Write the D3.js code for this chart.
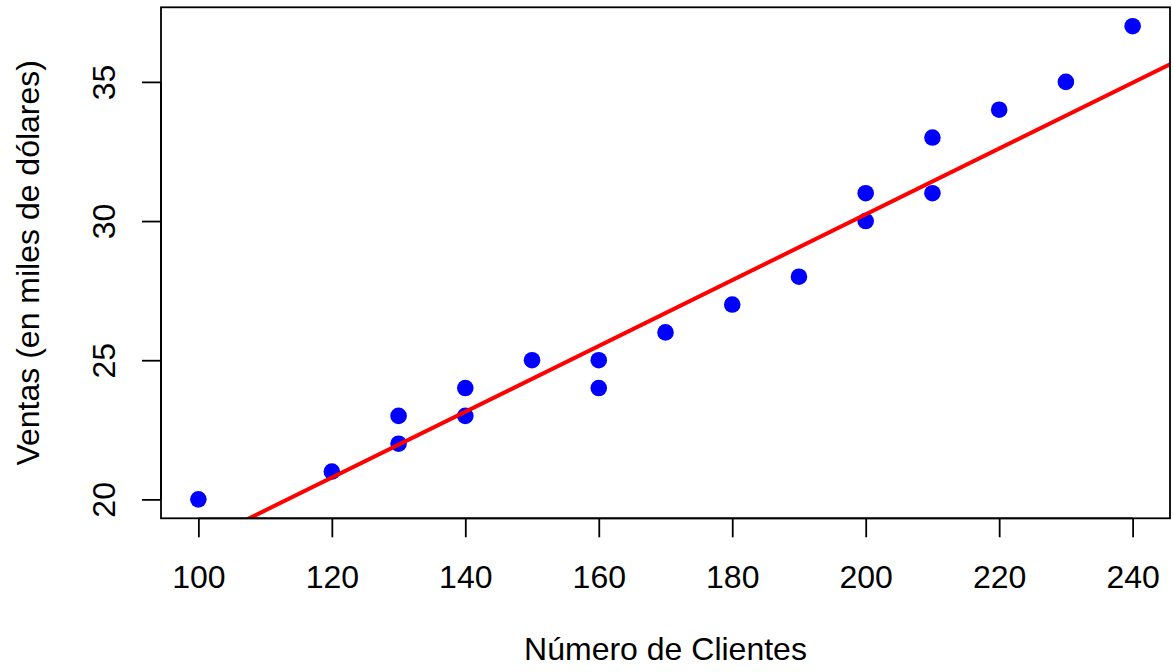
<!DOCTYPE html>
<meta charset="utf-8">
<style>
body { margin: 0; background: #fff; }
svg { font-family: "Liberation Sans", Arial, sans-serif; }
.axis path, .axis line { stroke: #000; stroke-width: 1.8; fill: none; }
.axis text { font-size: 32px; fill: #000; font-family: "Liberation Sans", Arial, sans-serif; }
.titulo { font-size: 32px; fill: #000; text-anchor: middle; }
</style>
<body>
<script src="https://cdn.jsdelivr.net/npm/d3@7"></script>
<script>

// datos
var clientes = [100, 120, 130, 130, 140, 140, 150, 160, 160, 170, 180, 190, 200, 200, 210, 210, 220, 230, 240];
var ventas   = [20, 21, 23, 22, 24, 23, 25, 25, 24, 26, 27, 28, 31, 30, 33, 31, 34, 35, 37];

// recta ajustada
var intercepto = 6.6,
    pendiente = 0.1182;

var xTicks = [100, 120, 140, 160, 180, 200, 220, 240];
var yTicks = [20, 25, 30, 35];

var W = 1173, H = 672;
var margin = {top: 7.3, right: 3, bottom: 153.7, left: 161},
    width = W - margin.left - margin.right,
    height = H - margin.top - margin.bottom;

// rango con 4% extra como en R
function rangoR(v) {
    var e = d3.extent(v), d = (e[1] - e[0]) * 0.04;
    return [e[0] - d, e[1] + d];
}

var x = d3.scaleLinear().domain(rangoR(clientes)).range([0, width]);
var y = d3.scaleLinear().domain(rangoR(ventas)).range([height, 0]);

var svg = d3.select("body").append("svg")
    .attr("width", W)
    .attr("height", H);

var g = svg.append("g")
    .attr("transform", "translate(" + margin.left + "," + margin.top + ")");

g.append("clipPath").attr("id", "clip")
  .append("rect").attr("width", width).attr("height", height);

// puntos
var datos = clientes.map(function(c, i) { return {x: c, y: ventas[i]}; });
g.selectAll(".punto")
    .data(datos)
  .enter().append("circle")
    .attr("class", "punto")
    .attr("cx", function(d) { return x(d.x); })
    .attr("cy", function(d) { return y(d.y); })
    .attr("r", 8.3)
    .style("fill", "#0000ff");

// recta de regresion
var xd = x.domain();
g.append("line")
    .attr("clip-path", "url(#clip)")
    .attr("x1", x(xd[0]))
    .attr("y1", y(intercepto + pendiente * xd[0]))
    .attr("x2", x(xd[1]))
    .attr("y2", y(intercepto + pendiente * xd[1]))
    .style("stroke", "#ff0000")
    .style("stroke-width", 4);

// ejes
var ejeX = g.append("g")
    .attr("class", "axis")
    .attr("transform", "translate(0," + height + ")")
    .call(d3.axisBottom(x).tickValues(xTicks).tickSize(19).tickSizeOuter(0).tickFormat(d3.format("d")));
ejeX.select(".domain").attr("d", "M" + x(xTicks[0]) + ",0H" + x(xTicks[xTicks.length - 1]));
ejeX.selectAll("text").attr("y", 70).attr("dy", null);

var ejeY = g.append("g")
    .attr("class", "axis")
    .call(d3.axisLeft(y).tickValues(yTicks).tickSize(19).tickSizeOuter(0).tickFormat(d3.format("d")));
ejeY.select(".domain").attr("d", "M0," + y(yTicks[0]) + "V" + y(yTicks[yTicks.length - 1]));
ejeY.selectAll("text")
    .attr("x", null).attr("dy", null)
    .attr("text-anchor", "middle")
    .attr("transform", "translate(-46,0) rotate(-90)");

// caja
g.append("rect")
    .attr("width", width)
    .attr("height", height)
    .style("fill", "none")
    .style("stroke", "#000")
    .style("stroke-width", 1.8);

// titulos
svg.append("text")
    .attr("class", "titulo")
    .attr("x", margin.left + width / 2)
    .attr("y", margin.top + height + 141.7)
    .text("Número de Clientes");

svg.append("text")
    .attr("class", "titulo")
    .attr("transform", "translate(38.5," + (margin.top + height / 2) + ") rotate(-90)")
    .text("Ventas (en miles de dólares)");

</script>
</body>
